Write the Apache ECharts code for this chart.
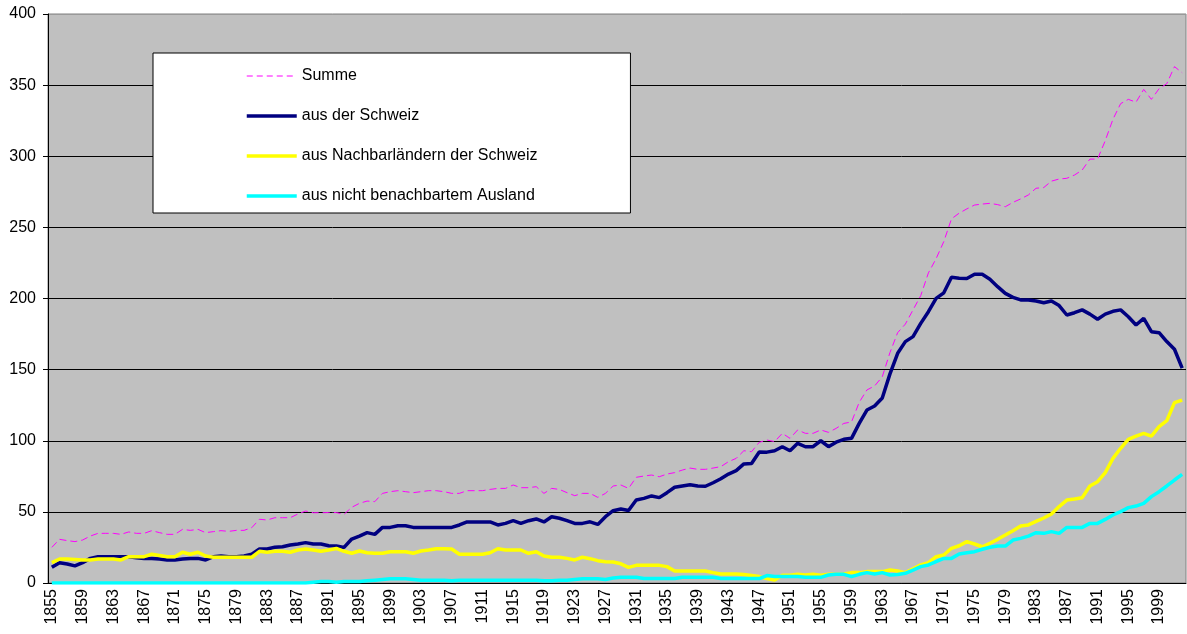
<!DOCTYPE html>
<html>
<head>
<meta charset="utf-8">
<title>Herkunft</title>
<script src="https://cdn.jsdelivr.net/npm/echarts@6.0.0/dist/echarts.min.js"></script>
<style>
  html, body { margin: 0; padding: 0; background: #fff; }
  #main { width: 1187px; height: 634px; }
</style>
</head>
<body>
<div id="main"></div>
<script>
// Jahre 1855 - 2002
var firstYear = 1855;
var lastYear = 2002;
var years = [];
for (var y = firstYear; y <= lastYear; y++) {
	years.push(String(y));
}

var seriesNames = ['Summe', 'aus der Schweiz', 'aus Nachbarländern der Schweiz', 'aus nicht benachbartem Ausland'];

// Summe
var summe = [
	25.1, 30.7, 29.8, 29.1, 30.2, 33, 34.9, 34.9, 34.9, 34.2,
	35.9, 34.9, 34.9, 36.8, 35.4, 34.2, 34.2, 37.7, 37, 37.7,
	35.4, 36.1, 36.8, 36.3, 37, 37, 38.9, 44.8, 44.3, 45.9,
	45.9, 45.9, 48.5, 50.6, 49.4, 49.4, 49.5, 49.5, 48.3, 53.2,
	56, 57.6, 57.2, 63, 64.2, 64.9, 64.2, 63.5, 64.2, 64.9,
	64.9, 64.2, 63, 63, 64.9, 64.9, 64.9, 65.8, 66.5, 66.5,
	68.9, 67, 67, 67.7, 63, 66.5, 65.8, 63.5, 61.4, 63,
	63, 60.2, 63, 68.2, 68.9, 66.5, 74.3, 75.2, 75.9, 74.7,
	76.6, 77.6, 79.4, 80.8, 79.9, 79.9, 80.8, 81.8, 85.3, 87.6,
	93, 92.3, 98.9, 100.5, 99.4, 105.2, 101.7, 107.6, 105.2, 105.2,
	107.6, 105.9, 108.7, 112.2, 113.2, 127, 135.7, 138.5, 145, 162,
	176, 182, 192, 202, 218, 228, 240, 256, 260, 263,
	265.7, 266.4, 266.9, 266, 264.5, 267.6, 270, 272.8, 277.5, 278,
	282.5, 284, 284.5, 286.8, 290.3, 298, 298, 311, 326, 337,
	340, 338, 347, 340, 347.5, 351, 363, 358.7
];

// aus der Schweiz
var schweiz = [
	11, 14.3, 13.4, 12, 14.3, 17.3, 18.5, 18.5, 18.5, 18.5,
	18.5, 17.8, 17.3, 17.3, 16.9, 16.2, 16.2, 16.9, 17.3, 17.3,
	16.2, 18.5, 19, 18.5, 18.5, 19, 20.2, 23.9, 23.9, 25.1,
	25.5, 26.7, 27.4, 28.4, 27.4, 27.4, 26.2, 26, 25, 30.9,
	33, 35.4, 34.2, 39.1, 39.1, 40.3, 40.3, 39.1, 39.1, 39.1,
	39.1, 39.1, 39.1, 40.8, 42.9, 42.9, 42.9, 42.9, 40.8, 41.9,
	43.8, 41.9, 43.8, 45, 42.9, 46.6, 45.5, 43.8, 41.9, 41.9,
	43, 41.2, 46.6, 50.8, 52, 51, 58.3, 59.5, 61.2, 60,
	63.5, 67.3, 68.2, 69.1, 68.2, 68, 70.5, 73.3, 76.6, 79,
	83.7, 84, 92.1, 92, 93, 95.8, 93, 98.2, 95.8, 95.8,
	100, 95.8, 99, 101, 101.7, 112.2, 121.6, 124.4, 130, 147,
	161.5, 169.7, 173.2, 182.5, 190.7, 200.1, 204, 214.9, 214.2, 214,
	217, 217, 213.5, 208.3, 203.6, 200.8, 199, 199, 198.2, 197,
	198.2, 195, 188.4, 190, 192, 189, 185.4, 189, 191, 192,
	187.2, 181.4, 186, 176.7, 176, 169.7, 164.3, 151
];

// aus Nachbarländern der Schweiz
var nachbar = [
	14.3, 16.9, 16.9, 16.6, 16.2, 16.2, 16.9, 16.9, 16.9, 16.2,
	18.5, 18.5, 18.5, 20.2, 19.4, 18.5, 18.5, 21.6, 20.2, 21.6,
	19, 18.1, 18.1, 18.1, 18.1, 18.1, 18.1, 22.3, 21.6, 22.3,
	22.3, 21.6, 23.2, 23.9, 23.2, 22.3, 23.2, 24.3, 22.3, 20.9,
	22.5, 21.3, 20.9, 20.9, 22, 22, 22, 20.9, 22.5, 23.2,
	24.1, 24.1, 23.9, 20.2, 20.2, 20.2, 20.2, 21.3, 24.1, 23.2,
	23.2, 23.2, 20.9, 22, 19, 18.1, 18.1, 17.3, 16.2, 18.1,
	17.1, 15.7, 15, 14.8, 13.5, 11, 12.4, 12.4, 12.4, 12.4,
	11.5, 8.4, 8.4, 8.4, 8.4, 8.4, 7.3, 6.3, 6.3, 6.3,
	5.9, 5.2, 4.5, 3.1, 2.1, 5.4, 5.4, 6.1, 5.6, 6.1,
	5.4, 6.1, 6.1, 6.3, 7.3, 7.3, 8, 8, 8, 9.1,
	8.4, 7.3, 10, 12.7, 14.3, 18.5, 19.7, 24.4, 26.2, 29.1,
	27.4, 25.5, 27.9, 30.7, 33.7, 36.8, 40.1, 40.8, 43.3, 45.7,
	48.5, 53.7, 58.3, 59.1, 60, 68.2, 71.2, 77.6, 87.6, 94.7,
	101, 103.3, 105.2, 103.3, 109.9, 114.1, 126.8, 128.6
];

// aus nicht benachbartem Ausland
var ausland = [
	0, 0, 0, 0, 0, 0, 0, 0, 0, 0,
	0, 0, 0, 0, 0, 0, 0, 0, 0, 0,
	0, 0, 0, 0, 0, 0, 0, 0, 0, 0,
	0, 0, 0, 0, 0.5, 1, 1, 0.5, 1, 1,
	1, 1.5, 2, 2.5, 3, 3, 3, 2.5, 2, 2,
	2, 2, 1.5, 2, 2, 2, 2, 2, 2, 2,
	2, 2, 2, 2, 1.5, 1.5, 2, 2, 2.5, 3,
	3, 3, 2.5, 3.5, 4, 4, 4, 3.1, 3.1, 3.1,
	3.1, 3.1, 4, 4, 4, 4, 4, 3.1, 3.1, 3.1,
	3.1, 3.1, 3.1, 5.2, 4.5, 4.5, 4.5, 4.5, 4, 4,
	4, 5.6, 6.1, 6.1, 4.5, 6.1, 7.3, 6.3, 7.3, 5.6,
	6, 6.8, 9.1, 11.5, 12.7, 15, 17.3, 17.3, 20.4, 21.3,
	22, 23.7, 25.1, 26, 26, 30.2, 31.4, 33, 35.4, 34.9,
	36.1, 34.9, 39.1, 39.1, 39.1, 41.9, 41.9, 44.7, 47.8, 50.2,
	53, 54.1, 56, 60.7, 64.2, 68.2, 72.4, 76.4
];

var colors = ['#ff00ff', '#000080', '#ffff00', '#00ffff'];
var widths = [1, 3.5, 3.5, 3.5];

var fontFamily = '"Liberation Sans", Arial, sans-serif';

var chart = echarts.init(document.getElementById('main'), null, { renderer: 'canvas' });

chart.setOption({
	animation: false,
	backgroundColor: '#fff',
	textStyle: { fontFamily: fontFamily },
	grid: {
		left: 48,
		right: 1,
		top: 14,
		bottom: 51,
		show: true,
		backgroundColor: '#c0c0c0',
		borderColor: '#808080',
		borderWidth: 1
	},
	legend: {
		data: seriesNames.map(function (name, i) {
			return {
				name: name,
				itemStyle: { opacity: 0 },
				lineStyle: { width: widths[i], color: colors[i], type: i === 0 ? [6, 4] : 'solid' }
			};
		}),
		orient: 'vertical',
		left: 153,
		top: 53,
		padding: [15, 93, 9, 92],
		itemWidth: 50,
		itemHeight: 14,
		itemGap: 24,
		backgroundColor: '#fff',
		borderColor: '#000',
		borderWidth: 1,
		textStyle: { fontSize: 16, color: '#000', fontFamily: fontFamily }
	},
	xAxis: {
		type: 'category',
		data: years,
		boundaryGap: true,
		axisLine: { lineStyle: { color: '#000', width: 1 } },
		axisTick: { interval: 0, length: 5, lineStyle: { color: '#000' } },
		axisLabel: {
			interval: 3,
			rotate: 90,
			margin: 6,
			fontSize: 16,
			color: '#000',
			fontFamily: fontFamily
		},
		splitLine: { show: false }
	},
	yAxis: {
		type: 'value',
		min: 0,
		max: 400,
		interval: 50,
		axisLine: { show: true, lineStyle: { color: '#000', width: 1 } },
		axisTick: { show: true, length: 5, lineStyle: { color: '#000' } },
		axisLabel: { fontSize: 16, color: '#000', margin: 12, fontFamily: fontFamily },
		splitLine: {
			lineStyle: {
				color: ['#000', '#000', '#000', '#000', '#000', '#000', '#000', '#000', '#999'],
				width: 1
			}
		}
	},
	series: [{
		name: seriesNames[0],
		type: 'line',
		symbol: 'none',
		itemStyle: { color: colors[0] },
		lineStyle: { color: colors[0], width: widths[0], type: [7, 4] },
		data: summe
	}, {
		name: seriesNames[1],
		type: 'line',
		symbol: 'none',
		itemStyle: { color: colors[1] },
		lineStyle: { color: colors[1], width: widths[1] },
		data: schweiz
	}, {
		name: seriesNames[2],
		type: 'line',
		symbol: 'none',
		itemStyle: { color: colors[2] },
		lineStyle: { color: colors[2], width: widths[2] },
		data: nachbar
	}, {
		name: seriesNames[3],
		type: 'line',
		symbol: 'none',
		itemStyle: { color: colors[3] },
		lineStyle: { color: colors[3], width: widths[3] },
		data: ausland
	}]
});
</script>
</body>
</html>
